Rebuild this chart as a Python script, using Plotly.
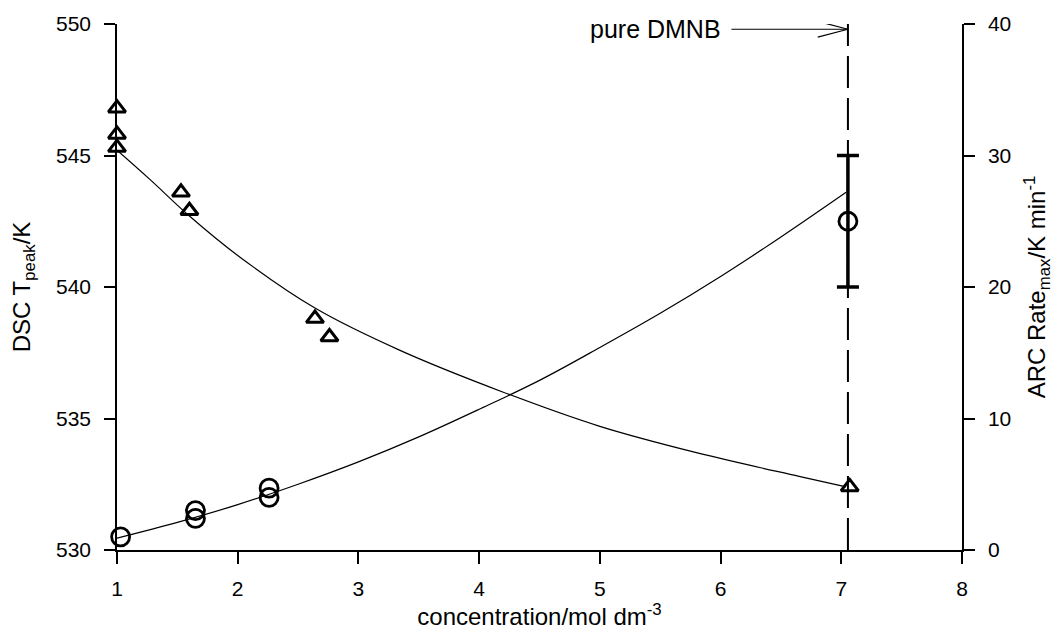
import plotly.graph_objects as go

# ---- data ----
dsc_conc = [1.0, 1.0, 1.0, 1.53, 1.60, 2.64, 2.76, 7.07]
dsc_tpeak = [546.8, 545.8, 545.3, 543.6, 542.9, 538.8, 538.1, 532.4]

arc_conc = [1.03, 1.65, 1.65, 2.26, 2.26]
arc_rate = [1.0, 3.0, 2.4, 4.7, 4.0]

pure_conc = [7.055]
pure_rate = [25.0]
pure_rate_err = [5.0]

# fitted curves
dsc_fit_conc = [1.0, 1.27, 1.6, 2.0, 2.64, 3.34, 4.2, 5.0, 5.8, 6.65, 7.04]
dsc_fit_t = [545.2, 544.1, 542.7, 541.2, 539.2, 537.6, 536.0, 534.7, 533.7, 532.8, 532.4]

arc_fit_conc = [1.0, 1.5, 2.0, 2.5, 3.0, 3.5, 4.0, 4.5, 5.0, 5.5, 6.0, 6.5, 7.04]
arc_fit_rate = [0.9, 2.1, 3.45, 5.0, 6.7, 8.6, 10.7, 12.9, 15.4, 18.0, 20.8, 23.8, 27.2]

x_ticks = [1, 2, 3, 4, 5, 6, 7, 8]
y_left_ticks = [530, 535, 540, 545, 550]
y_right_ticks = [0, 10, 20, 30, 40]

FONT = "Liberation Sans, Arial, sans-serif"
TICKFONT = dict(family=FONT, size=21, color="black")
TITLEFONT = dict(family=FONT, size=24, color="black")

fig = go.Figure()

fig.add_trace(go.Scatter(x=dsc_fit_conc, y=dsc_fit_t, mode="lines",
                         line=dict(color="black", width=1.2, shape="spline"),
                         showlegend=False, yaxis="y"))
fig.add_trace(go.Scatter(x=arc_fit_conc, y=arc_fit_rate, mode="lines",
                         line=dict(color="black", width=1.2, shape="spline"),
                         showlegend=False, yaxis="y2"))

fig.add_trace(go.Scatter(x=dsc_conc, y=dsc_tpeak, mode="markers",
                         marker=dict(symbol="triangle-up-open", size=15, color="black",
                                     line=dict(width=3, color="black")),
                         cliponaxis=False, showlegend=False, yaxis="y"))
fig.add_trace(go.Scatter(x=arc_conc, y=arc_rate, mode="markers",
                         marker=dict(symbol="circle-open", size=18, color="black",
                                     line=dict(width=2.8, color="black")),
                         cliponaxis=False, showlegend=False, yaxis="y2"))
fig.add_trace(go.Scatter(x=pure_conc, y=pure_rate, mode="markers",
                         marker=dict(symbol="circle-open", size=18, color="black",
                                     line=dict(width=2.8, color="black")),
                         error_y=dict(type="data", array=pure_rate_err, visible=True,
                                      color="black", thickness=3.5, width=11),
                         cliponaxis=False, showlegend=False, yaxis="y2"))

# dashed vertical line marking pure DMNB
fig.add_shape(type="line", xref="x", yref="y2", x0=pure_conc[0], x1=pure_conc[0],
              y0=0, y1=40, line=dict(color="black", width=2, dash="32px,10px"))

# small extension of the bottom axis line to the left of the y axis
fig.add_shape(type="line", xref="paper", yref="paper", x0=-0.011, x1=0, y0=0, y1=0,
              line=dict(color="black", width=1.5))

# annotation with open arrowhead
tip_x, tip_y = pure_conc[0], 549.8
fig.add_shape(type="line", xref="x", yref="y", x0=6.09, x1=tip_x, y0=tip_y, y1=tip_y,
              line=dict(color="black", width=1.2))
fig.add_shape(type="line", xref="x", yref="y", x0=tip_x - 0.25, x1=tip_x, y0=tip_y + 0.3, y1=tip_y,
              line=dict(color="black", width=1.2))
fig.add_shape(type="line", xref="x", yref="y", x0=tip_x - 0.25, x1=tip_x, y0=tip_y - 0.3, y1=tip_y,
              line=dict(color="black", width=1.2))
fig.add_annotation(x=6.02, y=tip_y, xref="x", yref="y", text="pure DMNB", showarrow=False,
                   xanchor="right", yanchor="middle", font=dict(family=FONT, size=25, color="black"))

axis_common = dict(showgrid=False, zeroline=False, showline=True, linecolor="black", linewidth=1.5,
                   ticks="outside", tickcolor="black", tickwidth=1.5, tickfont=TICKFONT)

fig.update_layout(
    width=1061, height=637,
    margin=dict(l=117, r=99, t=22, b=87),
    paper_bgcolor="white", plot_bgcolor="white",
    xaxis=dict(range=[1, 8], tickvals=x_ticks, ticklen=12, ticklabelstandoff=7,
               title=dict(text="concentration/mol dm<sup>-3</sup>", standoff=6, font=TITLEFONT),
               **axis_common),
    yaxis=dict(range=[530, 550], tickvals=y_left_ticks, ticklen=11, ticklabelstandoff=9,
               title=dict(text="DSC T<sub>peak</sub>/K", standoff=19, font=TITLEFONT),
               **axis_common),
    yaxis2=dict(range=[0, 40], tickvals=y_right_ticks, ticklen=11, ticklabelstandoff=9,
                overlaying="y", side="right", anchor="x",
                title=dict(text="ARC Rate<sub>max</sub>/K min<sup>-1</sup>", standoff=18, font=TITLEFONT),
                **axis_common),
)

fig.write_html("out.html")
